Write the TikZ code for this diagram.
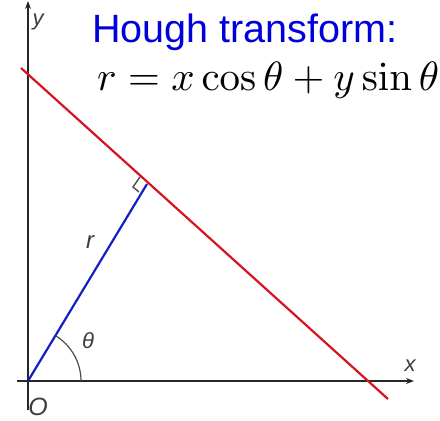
\documentclass[tikz,border=0pt]{standalone}
\usepackage[no-math]{fontspec}
\setmainfont{Liberation Sans}
\usepackage{graphicx}
\usetikzlibrary{arrows.meta}
\definecolor{titleblue}{RGB}{0,0,220}
\definecolor{linered}{RGB}{215,20,30}
\definecolor{lineblue}{RGB}{20,30,200}
\definecolor{lblgray}{RGB}{60,60,60}
\begin{document}
\begin{tikzpicture}[x=1pt,y=-1pt,
  axis/.style={line width=1.6pt, black!85, -{Stealth[length=8pt,width=6pt]}},
  redline/.style={line width=2.2pt, linered},
  blueline/.style={line width=2.2pt, lineblue},
  lbl/.style={font=\itshape\fontsize{22}{22}\selectfont, text=lblgray, inner sep=0pt},
  thin/.style={line width=1.2pt, black!70}]
\useasboundingbox (0,0) rectangle (440,421);
\coordinate (O) at (28,381);
\coordinate (xstart) at (17,381);
\coordinate (xend) at (414,381);
\coordinate (ybot) at (28,410);
\coordinate (ytop) at (28,1);
\coordinate (R1) at (21,68);
\coordinate (R2) at (388,399);
\coordinate (F) at (147,184);
\coordinate (A0) at (81,381);
\coordinate (M1) at (140,177);
\coordinate (M2) at (133,187);
\coordinate (M3) at (139,192);
\draw[axis] (xstart) -- (xend);
\draw[axis] (ybot) -- (ytop);
\draw[redline] (R1) -- (R2);
\draw[blueline] (O) -- (F);
\draw[thin] (A0) arc[start angle=0, end angle=58.7, radius=53pt];
\draw[thin, line width=1.4pt] (M1) -- (M2) -- (M3);
\node[lbl] (ylab) at (38,22) {y};
\node[lbl] (xlab) at (410,366) {x};
\node[lbl, font=\itshape\fontsize{25}{25}\selectfont] (olab) at (38,407) {O};
\node[lbl] (thlab) at (88,341) {θ};
\node[lbl, font=\itshape\fontsize{24}{24}\selectfont] (rlab) at (90,242) {r};
\node[anchor=base west, inner sep=0pt, text=titleblue, font=\fontsize{39.5}{40}\selectfont] (title) at (92,42) {Hough transform:};
\node[anchor=base west, inner sep=0pt] (formula) at (97,90) {\resizebox{342pt}{!}{$r = x\cos\theta + y\sin\theta$}};
\end{tikzpicture}
\end{document}
